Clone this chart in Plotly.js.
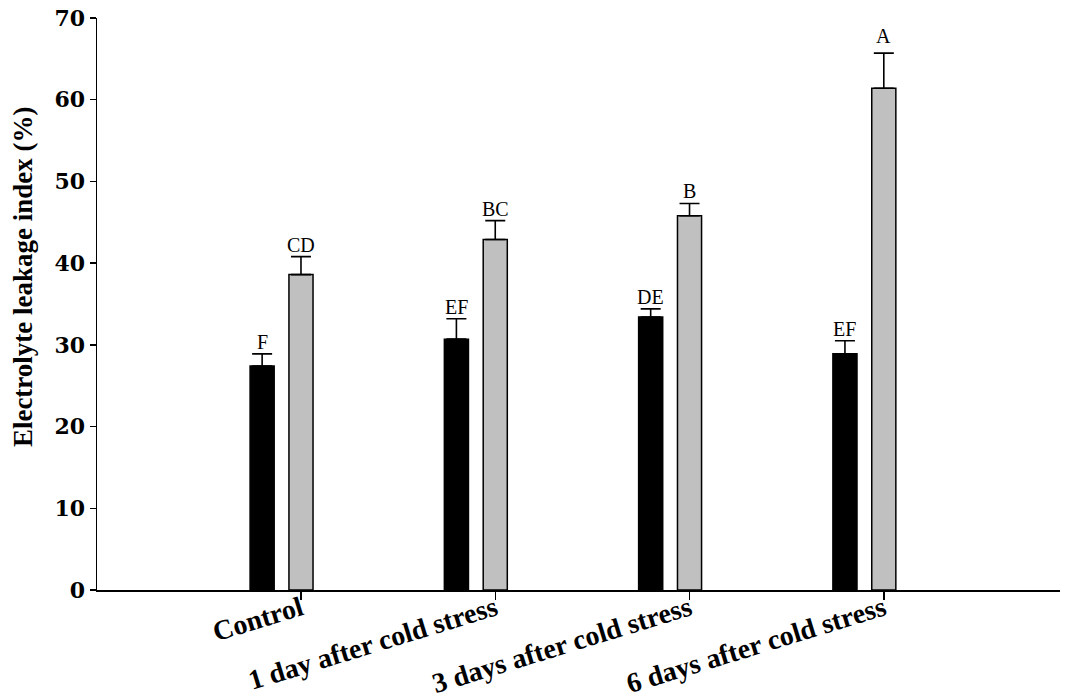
<!DOCTYPE html>
<html>
<head>
<meta charset="utf-8">
<script src="https://cdn.plot.ly/plotly-3.0.1.min.js"></script>
<style>html,body{margin:0;padding:0;background:#fff}#chart{width:1067px;height:695px}</style>
</head>
<body>
<div id="chart"></div>
<script>
const categories = ['Control', '1 day after cold stress', '3 days after cold stress', '6 days after cold stress'];
const blackValues = [27.4, 30.7, 33.4, 28.9];
const blackErrors = [1.5, 2.5, 1.0, 1.6];
const grayValues = [38.6, 42.9, 45.8, 61.4];
const grayErrors = [2.2, 2.3, 1.5, 4.3];
const blackLetters = ['F', 'EF', 'DE', 'EF'];
const grayLetters = ['CD', 'BC', 'B', 'A'];
const yTickVals = [0, 10, 20, 30, 40, 50, 60, 70];
const yTitle = 'Electrolyte leakage index (%)';

const bargap = 0.6;
const slot = (1 - bargap) / 2;
const xIdx = categories.map((c, i) => i);

const errStyle = (arr) => ({
  type: 'data', symmetric: false, array: arr, arrayminus: arr.map(() => 0),
  color: '#000', thickness: 1.6, width: 10
});

const traces = [
  {
    type: 'bar', x: xIdx, y: blackValues, name: 'a',
    marker: {color: '#000000', line: {color: '#000', width: 1.5}},
    error_y: errStyle(blackErrors), hoverinfo: 'y'
  },
  {
    type: 'bar', x: xIdx, y: grayValues, name: 'b',
    marker: {color: '#c0c0c0', line: {color: '#000', width: 1.5}},
    error_y: errStyle(grayErrors), hoverinfo: 'y'
  }
];

const annotations = [];
xIdx.forEach((x, i) => {
  annotations.push({
    x: x - slot / 2, y: blackValues[i] + blackErrors[i], xref: 'x', yref: 'y',
    text: blackLetters[i], showarrow: false, xanchor: 'center', yanchor: 'bottom', yshift: -1,
    font: {family: 'Liberation Serif, Times New Roman, serif', size: 20, color: '#000'}
  });
  annotations.push({
    x: x + slot / 2, y: grayValues[i] + grayErrors[i], xref: 'x', yref: 'y',
    text: grayLetters[i], showarrow: false, xanchor: 'center', yanchor: 'bottom', yshift: i === 3 ? 4 : -1,
    font: {family: 'Liberation Serif, Times New Roman, serif', size: 20, color: '#000'}
  });
});
annotations.push({
  xref: 'paper', yref: 'paper', x: 0, y: 0.547, xshift: -74,
  xanchor: 'center', yanchor: 'middle', textangle: -90, showarrow: false,
  text: yTitle,
  font: {family: 'Liberation Serif, Times New Roman, serif', size: 27, color: '#000', weight: 'bold'}
});

const layout = {
  width: 1067, height: 695,
  margin: {l: 97, r: 7, t: 18, b: 105},
  paper_bgcolor: '#fff', plot_bgcolor: '#fff',
  showlegend: false,
  barmode: 'group', bargap: bargap, bargroupgap: 0.38,
  xaxis: {
    type: 'linear', range: [-0.95, 4.007],
    tickmode: 'array', tickvals: xIdx.map(x => x + slot / 2), ticktext: categories,
    tickangle: -17, ticks: 'outside', ticklen: 8, tickwidth: 1.5, tickcolor: '#000',
    ticklabelstandoff: -18,
    showline: true, linecolor: '#000', linewidth: 1.5,
    showgrid: false, zeroline: false, fixedrange: true, automargin: false,
    tickfont: {family: 'Liberation Serif, Times New Roman, serif', size: 28, color: '#000', weight: 'bold'}
  },
  yaxis: {
    range: [0, 70], tickmode: 'array', tickvals: yTickVals,
    ticks: 'outside', ticklen: 6, tickwidth: 1.5, tickcolor: '#000',
    showline: true, linecolor: '#000', linewidth: 1.5,
    showgrid: false, zeroline: false, fixedrange: true,
    tickfont: {family: 'DejaVu Serif, serif', size: 22, color: '#000', weight: 'bold'}
  },
  annotations: annotations
};

Plotly.newPlot('chart', traces, layout, {displayModeBar: false, staticPlot: true});
</script>
</body>
</html>
